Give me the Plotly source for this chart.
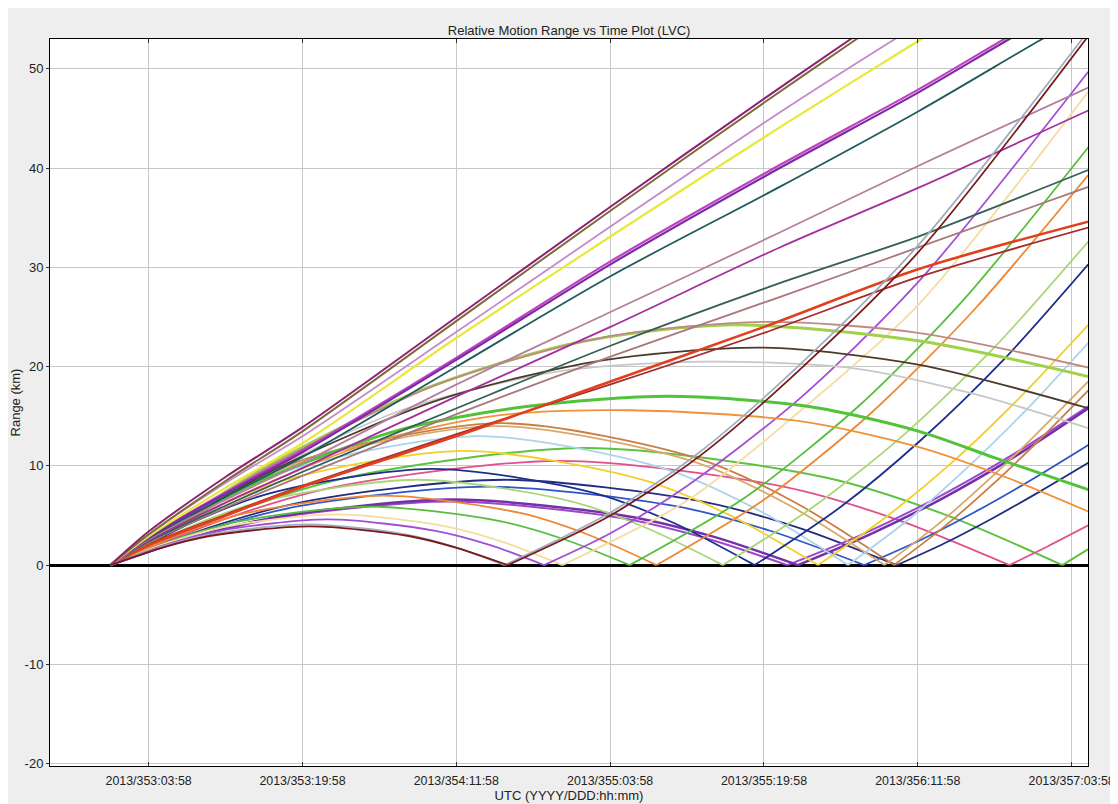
import plotly.graph_objects as go

# ---------------- axis labels ----------------
tick_labels = ["2013/353:03:58", "2013/353:19:58", "2013/354:11:58", "2013/355:03:58",
               "2013/355:19:58", "2013/356:11:58", "2013/357:03:58"]
y_ticks = [-20, -10, 0, 10, 20, 30, 40, 50]
y_tick_labels = ["-20", "-10", "0", "10", "20", "30", "40", "50"]
x_range = [-6.29, 101.67]   # hours since 2013/353:00:00
y_range = [-20.24, 53.0]

# ---------------- series (time in hours since 2013/353 00:00, range in km) ----------------
# curves that never return to zero inside the window
top_purple_t = [0, 4, 12, 20, 36, 52, 68, 77, 86]
top_purple_r = [0, 3.4, 8.9, 13.9, 25.0, 36.1, 47.0, 53.0, 59.0]
top_olive_t = [0, 4, 12, 20, 36, 52, 68, 77, 86]
top_olive_r = [0, 3.1, 8.5, 13.5, 24.6, 35.7, 46.6, 52.6, 58.6]
orchid_t = [0, 4, 12, 20, 36, 52, 69.6, 81.6, 90]
orchid_r = [0, 3.1, 8.3, 13.0, 23.5, 34.1, 45.6, 53.0, 58.0]
yellow_t = [0, 4, 12, 20, 36, 52, 69.6, 84, 90]
yellow_r = [0, 2.9, 7.8, 12.3, 22.9, 33.1, 44.1, 52.8, 56.5]
purple_thick_t = [0, 4, 12, 20, 36, 52, 69.6, 84, 93.5, 101.7]
purple_thick_r = [0, 2.8, 7.2, 11.4, 20.7, 30.3, 40.0, 47.6, 53.0, 57.5]
magenta_pair_t = [0, 4, 12, 20, 36, 52, 69.6, 84, 93.5, 101.7]
magenta_pair_r = [0, 2.85, 7.35, 11.6, 20.9, 30.6, 40.3, 47.9, 53.3, 57.8]
teal_t = [0, 4, 12, 20, 36, 52, 69.6, 84, 96.9, 101.7]
teal_r = [0, 2.7, 6.9, 10.9, 20.0, 29.1, 38.1, 45.7, 53.0, 55.6]
mauve_t = [0, 4, 12, 20, 36, 52, 69.6, 84, 101.7]
mauve_r = [0, 2.6, 6.6, 10.3, 18.2, 25.5, 33.5, 40.2, 48.1]
magenta_t = [0, 4, 12, 20, 36, 52, 69.6, 84, 101.7]
magenta_r = [0, 2.5, 6.3, 9.8, 17.0, 24.0, 32.0, 38.0, 45.8]
slate_t = [0, 4, 12, 20, 36, 52, 69.6, 84, 101.7]
slate_r = [0, 2.4, 6.0, 9.4, 15.8, 22.1, 28.4, 33.1, 39.8]
rosy_t = [0, 4, 12, 20, 36, 52, 69.6, 84, 101.7]
rosy_r = [0, 2.3, 5.8, 9.0, 15.2, 21.0, 27.0, 32.0, 38.1]
red_t = [0, 4, 12, 20, 36, 52, 68, 84, 101.7]
red_r = [0, 2.0, 5.0, 7.9, 13.0, 18.5, 24.0, 29.8, 34.6]
darkred_t = [0, 4, 12, 20, 36, 52, 68, 84, 101.7]
darkred_r = [0, 2.1, 5.1, 8.0, 13.2, 18.2, 23.4, 29.0, 34.0]
pinkbrown_t = [0, 4, 8.5, 17, 34, 51, 68, 84, 101.7]
pinkbrown_r = [0, 2.6, 5.2, 10.2, 18.2, 22.9, 24.5, 23.4, 19.9]
lime_t = [0, 4, 8, 16, 32, 48, 64, 84, 101.7]
lime_r = [0, 2.5, 4.9, 9.8, 17.5, 22.3, 24.2, 22.6, 19.0]
darkbrown_t = [0, 4, 8.5, 17, 34, 51, 68, 84, 101.7]
darkbrown_r = [0, 2.4, 5.0, 9.6, 16.6, 20.6, 21.9, 20.2, 15.8]
grey_t = [0, 4, 15.5, 30, 46.5, 62, 77.5, 90, 101.7]
grey_r = [0, 2.4, 8.9, 15.5, 19.5, 20.5, 19.8, 17.2, 13.8]
green_thick_t = [0, 4, 14.5, 30, 43.5, 58, 72.5, 84, 92, 101.7]
green_thick_r = [0, 2.3, 8.0, 13.6, 16.0, 17.0, 16.0, 13.5, 10.8, 7.6]
orange_flat_t = [0, 4, 13.5, 27, 40.5, 54, 71.7, 84, 93, 101.7]
orange_flat_r = [0, 2.2, 7.0, 12.3, 15.1, 15.6, 14.5, 11.9, 8.9, 5.4]

# curves that come back to zero (None separates the hump from the later rise)
brown_t = [0, 5.2, 10.3, 20.7, 31.0, 36.1, 41.3, None, 41.3, 52, 61.3, 71.7, 84, 101.7]
brown_r = [0, 1.71, 2.93, 3.9, 2.93, 1.71, 0, None, 0, 5.0, 11.0, 19.7, 31.5, 53.3]
greyblue_t = [0, 5.1, 10.3, 20.5, 30.8, 35.9, 41.0, None, 41.0, 52, 61.3, 71.7, 84, 101.7]
greyblue_r = [0, 1.79, 3.08, 4.1, 3.08, 1.79, 0, None, 0, 5.3, 11.4, 20.2, 32.2, 53.8]
violet_t = [0, 5.6, 11.3, 22.6, 33.8, 39.5, 45.1, None, 45.1, 52, 60, 71.7, 84, 101.7]
violet_r = [0, 2.01, 3.45, 4.6, 3.45, 2.01, 0, None, 0, 3.2, 8.0, 16.8, 28.5, 49.7]
wheat_t = [0, 5.9, 11.75, 23.5, 35.25, 41.1, 47, None, 47, 60, 71.7, 84, 101.7]
wheat_r = [0, 2.23, 3.83, 5.1, 3.83, 2.23, 0, None, 0, 6.5, 15.5, 26.2, 47.7]
green_v1_t = [0, 6.75, 13.5, 27, 40.5, 47.25, 54, None, 54, 66, 77.8, 88.7, 101.7]
green_v1_r = [0, 2.58, 4.43, 5.9, 4.43, 2.58, 0, None, 0, 6.8, 16.0, 26.7, 42.1]
orange_v_t = [0, 7.1, 14.2, 28.4, 42.6, 49.7, 56.8, None, 56.8, 68, 79.2, 90, 101.7]
orange_v_r = [0, 3.06, 5.25, 7.0, 5.25, 3.06, 0, None, 0, 6.6, 15.4, 25.9, 39.3]
lightgreen_t = [0, 8.0, 15.9, 31.9, 47.8, 55.7, 63.7, None, 63.7, 73, 82.6, 92, 101.7]
lightgreen_r = [0, 3.76, 6.45, 8.6, 6.45, 3.76, 0, None, 0, 5.8, 13.2, 22.0, 32.6]
navy_t = [0, 8.4, 16.75, 33.5, 50.25, 58.6, 67, None, 67, 76, 84.3, 93, 101.7]
navy_r = [0, 4.24, 7.28, 9.7, 7.28, 4.24, 0, None, 0, 5.9, 12.6, 20.8, 30.3]
gold_t = [0, 9.2, 18.4, 36.8, 55.2, 64.4, 73.6, None, 73.6, 80.6, 87.6, 94.6, 101.7]
gold_r = [0, 5.03, 8.63, 11.5, 8.63, 5.03, 0, None, 0, 4.8, 10.4, 16.9, 24.2]
skyblue_t = [0, 9.6, 19.2, 38.35, 57.5, 67.1, 76.7, None, 76.7, 83, 89.2, 95.4, 101.7]
skyblue_r = [0, 5.69, 9.75, 13.0, 9.75, 5.69, 0, None, 0, 4.6, 9.9, 15.8, 22.4]
tan_t = [0, 10.1, 20.1, 40.25, 60.4, 70.4, 80.5, None, 80.5, 85.8, 91, 96.3, 101.7]
tan_r = [0, 6.13, 10.5, 14.0, 10.5, 6.13, 0, None, 0, 3.9, 8.3, 13.2, 18.5]
sienna_t = [0, 10.2, 20.4, 40.75, 61.1, 71.3, 81.5, None, 81.5, 86.5, 91.5, 96.5, 101.7]
sienna_r = [0, 6.26, 10.73, 14.3, 10.73, 6.26, 0, None, 0, 3.7, 7.9, 12.5, 17.6]
plum_t = [0, 8.9, 17.9, 35.75, 53.6, 62.6, 71.5, None, 71.5, 79, 86.5, 94, 101.7]
plum_r = [0, 2.89, 4.95, 6.6, 4.95, 2.89, 0, None, 0, 3.1, 6.7, 10.9, 15.8]
plum2_t = [0, 8.8, 17.6, 35.2, 52.8, 61.6, 70.4, None, 70.4, 78.2, 86, 93.8, 101.7]
plum2_r = [0, 2.8, 4.8, 6.4, 4.8, 2.8, 0, None, 0, 3.1, 6.8, 11.1, 16.0]
blue_t = [0, 9.8, 19.6, 39.2, 58.8, 68.6, 78.4, None, 78.4, 84.2, 90, 95.8, 101.7]
blue_r = [0, 3.46, 5.93, 7.9, 5.93, 3.46, 0, None, 0, 2.5, 5.4, 8.6, 12.1]
indigo_t = [0, 10.2, 20.45, 40.9, 61.35, 71.6, 81.8, None, 81.8, 86.75, 91.7, 96.65, 101.7]
indigo_r = [0, 3.76, 6.45, 8.6, 6.45, 3.76, 0, None, 0, 2.2, 4.7, 7.4, 10.3]
pink_t = [0, 11.7, 23.4, 46.75, 70.1, 81.8, 93.5, None, 93.5, 97.5, 101.7]
pink_r = [0, 4.59, 7.88, 10.5, 7.88, 4.59, 0, None, 0, 1.9, 4.0]
green_v2_t = [0, 12.4, 24.75, 49.5, 74.25, 86.6, 99, None, 99, 101.7]
green_v2_r = [0, 5.16, 8.85, 11.8, 8.85, 5.16, 0, None, 0, 1.6]

# ---------------- styling (colour, width) ----------------
curves = [
    (green_v2_t, green_v2_r, "#5DC23E", 2),
    (pink_t, pink_r, "#E0508C", 1.8),
    (indigo_t, indigo_r, "#232C80", 1.8),
    (blue_t, blue_r, "#2F55C8", 1.8),
    (plum2_t, plum2_r, "#9C46C8", 2),
    (plum_t, plum_r, "#7330A8", 2.5),
    (sienna_t, sienna_r, "#CB7E42", 1.8),
    (tan_t, tan_r, "#D9A86A", 1.8),
    (skyblue_t, skyblue_r, "#ADD3EA", 1.8),
    (gold_t, gold_r, "#F2CF2A", 1.8),
    (navy_t, navy_r, "#1C2E8E", 1.8),
    (lightgreen_t, lightgreen_r, "#AAD67A", 1.8),
    (orange_v_t, orange_v_r, "#EE8836", 1.8),
    (green_v1_t, green_v1_r, "#56BE3C", 1.8),
    (wheat_t, wheat_r, "#F5DCA0", 1.8),
    (violet_t, violet_r, "#A24FD6", 1.8),
    (orange_flat_t, orange_flat_r, "#F0923A", 1.8),
    (green_thick_t, green_thick_r, "#52C23A", 3),
    (grey_t, grey_r, "#C8C8C8", 1.8),
    (darkbrown_t, darkbrown_r, "#4A3A2A", 1.8),
    (lime_t, lime_r, "#9FD14A", 3),
    (pinkbrown_t, pinkbrown_r, "#BF8A86", 1.8),
    (darkred_t, darkred_r, "#A52A2A", 1.8),
    (red_t, red_r, "#E0401E", 2.6),
    (rosy_t, rosy_r, "#A8787A", 1.8),
    (slate_t, slate_r, "#345F55", 1.8),
    (magenta_t, magenta_r, "#A3309C", 1.8),
    (mauve_t, mauve_r, "#B57F9E", 1.8),
    (teal_t, teal_r, "#1F5C5C", 1.8),
    (magenta_pair_t, magenta_pair_r, "#C040C0", 2.2),
    (purple_thick_t, purple_thick_r, "#7A2AA8", 2.2),
    (yellow_t, yellow_r, "#E8E83A", 2.2),
    (orchid_t, orchid_r, "#C38BC9", 1.8),
    (top_olive_t, top_olive_r, "#7D6A3C", 2),
    (top_purple_t, top_purple_r, "#8E2272", 2),
    (greyblue_t, greyblue_r, "#A0AEC0", 1.8),
    (brown_t, brown_r, "#7A1A1A", 1.8),
]


def label_hours(lbl):
    _, day, hh, mm = lbl.replace("/", ":").split(":")
    return (int(day) - 353) * 24 + int(hh) + int(mm) / 60.0


tick_vals = [label_hours(s) for s in tick_labels]

fig = go.Figure()
for t, r, color, width in curves:
    fig.add_trace(go.Scatter(
        x=t, y=r, mode="lines", connectgaps=False,
        line=dict(color=color, width=width, shape="spline", smoothing=0.8),
        hoverinfo="skip", showlegend=False,
    ))

# the page body has an 8px margin, so the figure is sized/offset to land the plot
# area where it sits in the reference
font_family = "Liberation Sans, Arial, sans-serif"
fig.update_layout(
    width=1110, height=796,
    margin=dict(l=42, r=30, t=31, b=38, autoexpand=False),
    paper_bgcolor="#EEEEEE", plot_bgcolor="white",
    font=dict(family=font_family, size=13, color="#222222"),
    title=dict(text="Relative Motion Range vs Time Plot (LVC)", x=0.5055, xanchor="center",
               xref="container", yref="container", y=0.972, yanchor="middle",
               automargin=False, font=dict(size=13, color="#222222")),
    showlegend=False,
)
fig.update_xaxes(
    range=x_range, tickvals=tick_vals, ticktext=tick_labels, automargin=False,
    showgrid=True, gridcolor="#C8C8C8", gridwidth=1,
    showline=True, linecolor="black", linewidth=1, mirror="ticks",
    ticks="inside", ticklen=4, tickcolor="#333333", ticklabelstandoff=3,
    zeroline=False, tickfont=dict(size=12.4),
    title=dict(text="UTC (YYYY/DDD:hh:mm)", standoff=2, font=dict(size=13)),
)
fig.update_yaxes(
    range=y_range, tickvals=y_ticks, ticktext=y_tick_labels, automargin=False,
    showgrid=True, gridcolor="#C8C8C8", gridwidth=1,
    showline=True, linecolor="black", linewidth=1, mirror=True,
    ticks="outside", ticklen=3, tickcolor="#333333",
    zeroline=True, zerolinecolor="black", zerolinewidth=3, tickfont=dict(size=13),
    title=dict(text="Range (km)", standoff=2, font=dict(size=13)),
)

fig.write_html("out.html")
